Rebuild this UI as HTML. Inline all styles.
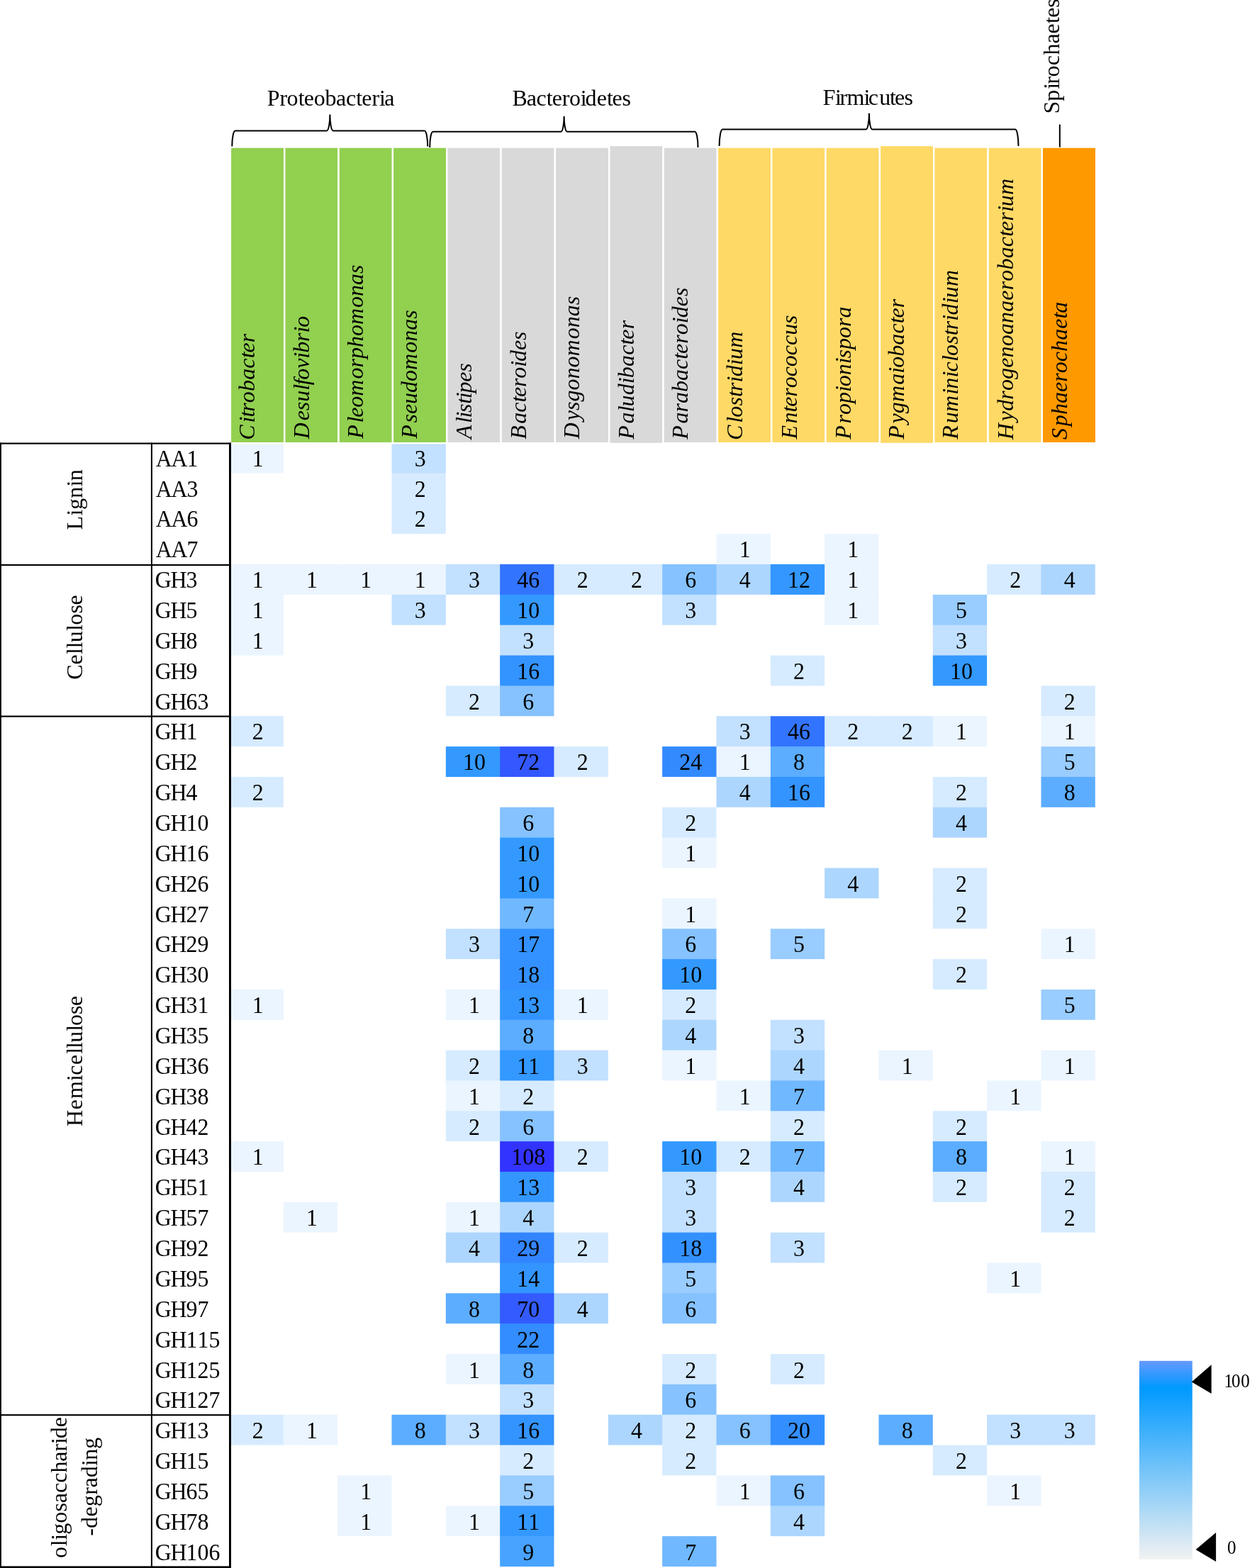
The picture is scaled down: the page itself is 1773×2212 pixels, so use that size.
<!DOCTYPE html>
<html lang="en"><head><meta charset="utf-8"><title>CAZyme family distribution heatmap</title>
<style>html,body{margin:0;padding:0;background:#fff}body{width:1773px;height:2212px;overflow:hidden}svg{display:block}text{font-family:"Liberation Serif","Times New Roman",Times,serif;font-size:32px;fill:#000;font-kerning:none}.i{font-style:italic}.n{text-anchor:middle;font-size:33.6px}.r{font-size:33.6px}</style></head><body>
<svg width="1773" height="2212" viewBox="0 0 1773 2212">
<defs><linearGradient id="lg" x1="0" y1="0" x2="0" y2="1"><stop offset="0" stop-color="#6699ff"/><stop offset="0.135" stop-color="#0099ff"/><stop offset="1" stop-color="#f2f2f2"/></linearGradient></defs>
<rect width="1773" height="2212" fill="#fff"/>
<g id="cells">
<rect x="323.5" y="624.66" width="76.33" height="42.85" fill="#ebf5ff"/>
<rect x="552.49" y="624.66" width="76.33" height="43.55" fill="#c2e0ff"/>
<rect x="552.49" y="667.51" width="76.33" height="43.55" fill="#d6ebff"/>
<rect x="552.49" y="710.35" width="76.33" height="42.85" fill="#d6ebff"/>
<rect x="1010.47" y="753.2" width="76.33" height="43.55" fill="#ebf5ff"/>
<rect x="1163.13" y="753.2" width="76.33" height="43.55" fill="#ebf5ff"/>
<rect x="323.5" y="796.04" width="77.03" height="43.55" fill="#ebf5ff"/>
<rect x="399.83" y="796.04" width="77.03" height="42.85" fill="#ebf5ff"/>
<rect x="476.16" y="796.04" width="77.03" height="42.85" fill="#ebf5ff"/>
<rect x="552.49" y="796.04" width="77.03" height="43.55" fill="#ebf5ff"/>
<rect x="628.82" y="796.04" width="77.03" height="42.85" fill="#c2e0ff"/>
<rect x="705.15" y="796.04" width="77.03" height="43.55" fill="#3374ff"/>
<rect x="781.48" y="796.04" width="77.03" height="42.85" fill="#d6ebff"/>
<rect x="857.81" y="796.04" width="77.03" height="42.85" fill="#d6ebff"/>
<rect x="934.14" y="796.04" width="77.03" height="43.55" fill="#85c2ff"/>
<rect x="1010.47" y="796.04" width="77.03" height="42.85" fill="#add6ff"/>
<rect x="1086.8" y="796.04" width="77.03" height="42.85" fill="#3397ff"/>
<rect x="1163.13" y="796.04" width="76.33" height="43.55" fill="#ebf5ff"/>
<rect x="1392.12" y="796.04" width="77.03" height="42.85" fill="#d6ebff"/>
<rect x="1468.45" y="796.04" width="76.33" height="42.85" fill="#add6ff"/>
<rect x="323.5" y="838.89" width="76.33" height="43.55" fill="#ebf5ff"/>
<rect x="552.49" y="838.89" width="76.33" height="42.85" fill="#c2e0ff"/>
<rect x="705.15" y="838.89" width="76.33" height="43.55" fill="#3399ff"/>
<rect x="934.14" y="838.89" width="76.33" height="42.85" fill="#c2e0ff"/>
<rect x="1163.13" y="838.89" width="76.33" height="42.85" fill="#ebf5ff"/>
<rect x="1315.79" y="838.89" width="76.33" height="43.55" fill="#99ccff"/>
<rect x="323.5" y="881.74" width="76.33" height="42.85" fill="#ebf5ff"/>
<rect x="705.15" y="881.74" width="76.33" height="43.55" fill="#c2e0ff"/>
<rect x="1315.79" y="881.74" width="76.33" height="43.55" fill="#c2e0ff"/>
<rect x="705.15" y="924.58" width="76.33" height="43.55" fill="#3393ff"/>
<rect x="1086.8" y="924.58" width="76.33" height="42.85" fill="#d6ebff"/>
<rect x="1315.79" y="924.58" width="76.33" height="42.85" fill="#3399ff"/>
<rect x="628.82" y="967.43" width="77.03" height="42.85" fill="#d6ebff"/>
<rect x="705.15" y="967.43" width="76.33" height="42.85" fill="#85c2ff"/>
<rect x="1468.45" y="967.43" width="76.33" height="43.55" fill="#d6ebff"/>
<rect x="323.5" y="1010.27" width="76.33" height="42.85" fill="#d6ebff"/>
<rect x="1010.47" y="1010.27" width="77.03" height="43.55" fill="#c2e0ff"/>
<rect x="1086.8" y="1010.27" width="77.03" height="43.55" fill="#3374ff"/>
<rect x="1163.13" y="1010.27" width="77.03" height="42.85" fill="#d6ebff"/>
<rect x="1239.46" y="1010.27" width="77.03" height="42.85" fill="#d6ebff"/>
<rect x="1315.79" y="1010.27" width="76.33" height="42.85" fill="#ebf5ff"/>
<rect x="1468.45" y="1010.27" width="76.33" height="43.55" fill="#ebf5ff"/>
<rect x="628.82" y="1053.12" width="77.03" height="42.85" fill="#3399ff"/>
<rect x="705.15" y="1053.12" width="77.03" height="42.85" fill="#3358ff"/>
<rect x="781.48" y="1053.12" width="76.33" height="42.85" fill="#d6ebff"/>
<rect x="934.14" y="1053.12" width="77.03" height="42.85" fill="#338aff"/>
<rect x="1010.47" y="1053.12" width="77.03" height="43.55" fill="#ebf5ff"/>
<rect x="1086.8" y="1053.12" width="76.33" height="43.55" fill="#5cadff"/>
<rect x="1468.45" y="1053.12" width="76.33" height="43.55" fill="#99ccff"/>
<rect x="323.5" y="1095.97" width="76.33" height="42.85" fill="#d6ebff"/>
<rect x="1010.47" y="1095.97" width="77.03" height="42.85" fill="#add6ff"/>
<rect x="1086.8" y="1095.97" width="76.33" height="42.85" fill="#3393ff"/>
<rect x="1315.79" y="1095.97" width="76.33" height="43.55" fill="#d6ebff"/>
<rect x="1468.45" y="1095.97" width="76.33" height="42.85" fill="#5cadff"/>
<rect x="705.15" y="1138.81" width="76.33" height="43.55" fill="#85c2ff"/>
<rect x="934.14" y="1138.81" width="76.33" height="43.55" fill="#d6ebff"/>
<rect x="1315.79" y="1138.81" width="76.33" height="42.85" fill="#add6ff"/>
<rect x="705.15" y="1181.66" width="76.33" height="43.55" fill="#3399ff"/>
<rect x="934.14" y="1181.66" width="76.33" height="42.85" fill="#ebf5ff"/>
<rect x="705.15" y="1224.5" width="76.33" height="43.55" fill="#3399ff"/>
<rect x="1163.13" y="1224.5" width="76.33" height="42.85" fill="#add6ff"/>
<rect x="1315.79" y="1224.5" width="76.33" height="43.55" fill="#d6ebff"/>
<rect x="705.15" y="1267.35" width="76.33" height="43.55" fill="#70b8ff"/>
<rect x="934.14" y="1267.35" width="76.33" height="43.55" fill="#ebf5ff"/>
<rect x="1315.79" y="1267.35" width="76.33" height="42.85" fill="#d6ebff"/>
<rect x="628.82" y="1310.2" width="77.03" height="42.85" fill="#c2e0ff"/>
<rect x="705.15" y="1310.2" width="76.33" height="43.55" fill="#3392ff"/>
<rect x="934.14" y="1310.2" width="76.33" height="43.55" fill="#85c2ff"/>
<rect x="1086.8" y="1310.2" width="76.33" height="42.85" fill="#99ccff"/>
<rect x="1468.45" y="1310.2" width="76.33" height="42.85" fill="#ebf5ff"/>
<rect x="705.15" y="1353.04" width="76.33" height="43.55" fill="#3391ff"/>
<rect x="934.14" y="1353.04" width="76.33" height="43.55" fill="#3399ff"/>
<rect x="1315.79" y="1353.04" width="76.33" height="42.85" fill="#d6ebff"/>
<rect x="323.5" y="1395.89" width="76.33" height="42.85" fill="#ebf5ff"/>
<rect x="628.82" y="1395.89" width="77.03" height="42.85" fill="#ebf5ff"/>
<rect x="705.15" y="1395.89" width="77.03" height="43.55" fill="#3396ff"/>
<rect x="781.48" y="1395.89" width="76.33" height="42.85" fill="#ebf5ff"/>
<rect x="934.14" y="1395.89" width="76.33" height="43.55" fill="#d6ebff"/>
<rect x="1468.45" y="1395.89" width="76.33" height="42.85" fill="#99ccff"/>
<rect x="705.15" y="1438.73" width="76.33" height="43.55" fill="#5cadff"/>
<rect x="934.14" y="1438.73" width="76.33" height="43.55" fill="#add6ff"/>
<rect x="1086.8" y="1438.73" width="76.33" height="43.55" fill="#c2e0ff"/>
<rect x="628.82" y="1481.58" width="77.03" height="43.55" fill="#d6ebff"/>
<rect x="705.15" y="1481.58" width="77.03" height="43.55" fill="#3398ff"/>
<rect x="781.48" y="1481.58" width="76.33" height="42.85" fill="#c2e0ff"/>
<rect x="934.14" y="1481.58" width="76.33" height="42.85" fill="#ebf5ff"/>
<rect x="1086.8" y="1481.58" width="76.33" height="43.55" fill="#add6ff"/>
<rect x="1239.46" y="1481.58" width="76.33" height="42.85" fill="#ebf5ff"/>
<rect x="1468.45" y="1481.58" width="76.33" height="42.85" fill="#ebf5ff"/>
<rect x="628.82" y="1524.43" width="77.03" height="43.55" fill="#ebf5ff"/>
<rect x="705.15" y="1524.43" width="76.33" height="43.55" fill="#d6ebff"/>
<rect x="1010.47" y="1524.43" width="77.03" height="42.85" fill="#ebf5ff"/>
<rect x="1086.8" y="1524.43" width="76.33" height="43.55" fill="#70b8ff"/>
<rect x="1392.12" y="1524.43" width="76.33" height="42.85" fill="#ebf5ff"/>
<rect x="628.82" y="1567.27" width="77.03" height="42.85" fill="#d6ebff"/>
<rect x="705.15" y="1567.27" width="76.33" height="43.55" fill="#85c2ff"/>
<rect x="1086.8" y="1567.27" width="76.33" height="43.55" fill="#d6ebff"/>
<rect x="1315.79" y="1567.27" width="76.33" height="43.55" fill="#d6ebff"/>
<rect x="323.5" y="1610.12" width="76.33" height="42.85" fill="#ebf5ff"/>
<rect x="705.15" y="1610.12" width="77.03" height="43.55" fill="#3333ff"/>
<rect x="781.48" y="1610.12" width="76.33" height="42.85" fill="#d6ebff"/>
<rect x="934.14" y="1610.12" width="77.03" height="43.55" fill="#3399ff"/>
<rect x="1010.47" y="1610.12" width="77.03" height="42.85" fill="#d6ebff"/>
<rect x="1086.8" y="1610.12" width="76.33" height="43.55" fill="#70b8ff"/>
<rect x="1315.79" y="1610.12" width="76.33" height="43.55" fill="#5cadff"/>
<rect x="1468.45" y="1610.12" width="76.33" height="43.55" fill="#ebf5ff"/>
<rect x="705.15" y="1652.96" width="76.33" height="43.55" fill="#3396ff"/>
<rect x="934.14" y="1652.96" width="76.33" height="43.55" fill="#c2e0ff"/>
<rect x="1086.8" y="1652.96" width="76.33" height="42.85" fill="#add6ff"/>
<rect x="1315.79" y="1652.96" width="76.33" height="42.85" fill="#d6ebff"/>
<rect x="1468.45" y="1652.96" width="76.33" height="43.55" fill="#d6ebff"/>
<rect x="399.83" y="1695.81" width="76.33" height="42.85" fill="#ebf5ff"/>
<rect x="628.82" y="1695.81" width="77.03" height="43.55" fill="#ebf5ff"/>
<rect x="705.15" y="1695.81" width="76.33" height="43.55" fill="#add6ff"/>
<rect x="934.14" y="1695.81" width="76.33" height="43.55" fill="#c2e0ff"/>
<rect x="1468.45" y="1695.81" width="76.33" height="42.85" fill="#d6ebff"/>
<rect x="628.82" y="1738.66" width="77.03" height="42.85" fill="#add6ff"/>
<rect x="705.15" y="1738.66" width="77.03" height="43.55" fill="#3385ff"/>
<rect x="781.48" y="1738.66" width="76.33" height="42.85" fill="#d6ebff"/>
<rect x="934.14" y="1738.66" width="76.33" height="43.55" fill="#3391ff"/>
<rect x="1086.8" y="1738.66" width="76.33" height="42.85" fill="#c2e0ff"/>
<rect x="705.15" y="1781.5" width="76.33" height="43.55" fill="#3395ff"/>
<rect x="934.14" y="1781.5" width="76.33" height="43.55" fill="#99ccff"/>
<rect x="1392.12" y="1781.5" width="76.33" height="42.85" fill="#ebf5ff"/>
<rect x="628.82" y="1824.35" width="77.03" height="42.85" fill="#5cadff"/>
<rect x="705.15" y="1824.35" width="77.03" height="43.55" fill="#335bff"/>
<rect x="781.48" y="1824.35" width="76.33" height="42.85" fill="#add6ff"/>
<rect x="934.14" y="1824.35" width="76.33" height="42.85" fill="#85c2ff"/>
<rect x="705.15" y="1867.19" width="76.33" height="43.55" fill="#338dff"/>
<rect x="628.82" y="1910.04" width="77.03" height="42.85" fill="#ebf5ff"/>
<rect x="705.15" y="1910.04" width="76.33" height="43.55" fill="#5cadff"/>
<rect x="934.14" y="1910.04" width="76.33" height="43.55" fill="#d6ebff"/>
<rect x="1086.8" y="1910.04" width="76.33" height="42.85" fill="#d6ebff"/>
<rect x="705.15" y="1952.89" width="76.33" height="43.55" fill="#c2e0ff"/>
<rect x="934.14" y="1952.89" width="76.33" height="43.55" fill="#85c2ff"/>
<rect x="323.5" y="1995.73" width="77.03" height="42.85" fill="#d6ebff"/>
<rect x="399.83" y="1995.73" width="76.33" height="42.85" fill="#ebf5ff"/>
<rect x="552.49" y="1995.73" width="77.03" height="42.85" fill="#5cadff"/>
<rect x="628.82" y="1995.73" width="77.03" height="42.85" fill="#c2e0ff"/>
<rect x="705.15" y="1995.73" width="76.33" height="43.55" fill="#3393ff"/>
<rect x="857.81" y="1995.73" width="77.03" height="42.85" fill="#add6ff"/>
<rect x="934.14" y="1995.73" width="77.03" height="43.55" fill="#d6ebff"/>
<rect x="1010.47" y="1995.73" width="77.03" height="42.85" fill="#85c2ff"/>
<rect x="1086.8" y="1995.73" width="76.33" height="42.85" fill="#338fff"/>
<rect x="1239.46" y="1995.73" width="76.33" height="42.85" fill="#5cadff"/>
<rect x="1392.12" y="1995.73" width="77.03" height="42.85" fill="#c2e0ff"/>
<rect x="1468.45" y="1995.73" width="76.33" height="42.85" fill="#c2e0ff"/>
<rect x="705.15" y="2038.58" width="76.33" height="43.55" fill="#d6ebff"/>
<rect x="934.14" y="2038.58" width="76.33" height="42.85" fill="#d6ebff"/>
<rect x="1315.79" y="2038.58" width="76.33" height="42.85" fill="#d6ebff"/>
<rect x="476.16" y="2081.42" width="76.33" height="43.55" fill="#ebf5ff"/>
<rect x="705.15" y="2081.42" width="76.33" height="43.55" fill="#99ccff"/>
<rect x="1010.47" y="2081.42" width="77.03" height="42.85" fill="#ebf5ff"/>
<rect x="1086.8" y="2081.42" width="76.33" height="43.55" fill="#85c2ff"/>
<rect x="1392.12" y="2081.42" width="76.33" height="42.85" fill="#ebf5ff"/>
<rect x="476.16" y="2124.27" width="76.33" height="42.85" fill="#ebf5ff"/>
<rect x="628.82" y="2124.27" width="77.03" height="42.85" fill="#ebf5ff"/>
<rect x="705.15" y="2124.27" width="76.33" height="43.55" fill="#3398ff"/>
<rect x="1086.8" y="2124.27" width="76.33" height="42.85" fill="#add6ff"/>
<rect x="705.15" y="2167.12" width="76.33" height="42.85" fill="#47a3ff"/>
<rect x="934.14" y="2167.12" width="76.33" height="42.85" fill="#70b8ff"/>
</g>
<g id="bars" stroke="#fff" stroke-width="2.4">
<rect x="324.9" y="207.5" width="76.33" height="417.7" fill="#92d050"/>
<rect x="401.23" y="207.5" width="76.33" height="417.7" fill="#92d050"/>
<rect x="477.56" y="207.5" width="76.33" height="417.7" fill="#92d050"/>
<rect x="553.89" y="207.5" width="76.33" height="417.7" fill="#92d050"/>
<rect x="630.22" y="207.5" width="76.33" height="417.7" fill="#d9d9d9"/>
<rect x="706.55" y="207.5" width="76.33" height="417.7" fill="#d9d9d9"/>
<rect x="782.88" y="207.5" width="76.33" height="417.7" fill="#d9d9d9"/>
<rect x="859.21" y="205" width="76.33" height="421" fill="#d9d9d9"/>
<rect x="935.54" y="207.5" width="76.33" height="417.7" fill="#d9d9d9"/>
<rect x="1011.87" y="207.5" width="76.33" height="417.7" fill="#ffd966"/>
<rect x="1088.2" y="207.5" width="76.33" height="417.7" fill="#ffd966"/>
<rect x="1164.53" y="207.5" width="76.33" height="417.7" fill="#ffd966"/>
<rect x="1240.86" y="205" width="76.33" height="421" fill="#ffd966"/>
<rect x="1317.19" y="207.5" width="76.33" height="417.7" fill="#ffd966"/>
<rect x="1393.52" y="207.5" width="76.33" height="417.7" fill="#ffd966"/>
<rect x="1469.85" y="207.5" width="76.33" height="417.7" fill="#ff9900"/>
</g>
<g id="genera" class="i">
<text transform="translate(359.4 620.68) rotate(-90)" x="0 24.22 32.18 39.95 52.54 68.69 84.83 100.98 115.32 123.09 137.43">Citrobacter</text>
<text transform="translate(435.7 619.14) rotate(-90)" x="0 25.79 39.94 52.34 68.28 75.85 83.42 99.36 113.51 121.28 137.23 149.63 157.39">Desulfovibrio</text>
<text transform="translate(512.3 618.73) rotate(-90)" x="0 22.28 29.9 44.1 60.1 84.24 100.24 112.7 128.7 144.7 160.7 184.84 200.84 216.84 232.84">Pleomorphomonas</text>
<text transform="translate(588.1 618.83) rotate(-90)" x="0 22.27 34.72 48.92 64.92 80.92 96.92 121.05 137.05 153.05 169.04">Pseudomonas</text>
<text transform="translate(665.2 619.15) rotate(-90)" x="0 22.11 29.56 37.21 49.5 56.95 64.6 80.43 94.47">Alistipes</text>
<text transform="translate(741.9 619.8) rotate(-90)" x="0 22.18 38.08 52.19 59.71 73.82 86.18 102.08 109.8 125.71 139.81">Bacteroides</text>
<text transform="translate(817.3 619.14) rotate(-90)" x="0 25.86 40.08 52.56 68.58 84.6 100.62 116.64 140.8 156.82 172.84 188.86">Dysgonomonas</text>
<text transform="translate(893.6 619.83) rotate(-90)" x="0 22.43 38.59 46.37 62.53 78.69 86.67 102.82 118.98 133.34 141.12 155.48">Paludibacter</text>
<text transform="translate(970.3 619.83) rotate(-90)" x="0 22.31 38.35 50.84 66.88 82.91 98.95 113.19 120.85 135.08 147.57 163.61 171.47 187.5 201.74">Parabacteroides</text>
<text transform="translate(1046.7 620.98) rotate(-90)" x="0 24.3 32.15 48.37 61.05 68.89 81.57 89.62 105.84 113.89 130.12">Clostridium</text>
<text transform="translate(1123.5 619.62) rotate(-90)" x="0 22.24 38.2 45.78 59.95 72.36 88.32 102.49 118.45 132.61 146.78 162.74">Enterococcus</text>
<text transform="translate(1199.5 619.83) rotate(-90)" x="0 22.28 34.74 50.74 66.75 74.57 90.58 106.58 114.41 126.86 142.87 158.87 171.33">Propionispora</text>
<text transform="translate(1274.7 619.83) rotate(-90)" x="0 22.37 36.67 52.76 76.99 93.08 101 117.09 133.18 149.28 163.57 171.29 185.58">Pygmaiobacter</text>
<text transform="translate(1351.4 619.83) rotate(-90)" x="0 22.51 38.74 63.11 71.17 87.4 95.45 109.89 117.74 133.97 146.66 154.51 167.19 175.25 191.48 199.53 215.76">Ruminiclostridium</text>
<text transform="translate(1428.6 620.16) rotate(-90)" x="0 25.99 40.35 56.5 69.11 85.26 101.42 115.77 131.93 148.08 164.24 180.39 196.54 210.9 223.51 239.66 255.81 271.97 286.32 294.1 308.46 321.06 329.04 345.19">Hydrogenoanaerobacterium</text>
<text transform="translate(1505.2 619.98) rotate(-90)" x="0 18.79 34.86 50.92 66.98 81.25 93.77 109.83 124.1 140.16 156.23 170.49 178.18">Sphaerochaeta</text>
</g>
<g id="values">
<text class="n" transform="translate(363.67 657.7) scale(0.95 1)">1</text>
<text class="n" transform="translate(592.65 657.7) scale(0.95 1)">3</text>
<text class="n" transform="translate(592.65 700.56) scale(0.95 1)">2</text>
<text class="n" transform="translate(592.65 743.42) scale(0.95 1)">2</text>
<text class="n" transform="translate(1050.63 786.28) scale(0.95 1)">1</text>
<text class="n" transform="translate(1203.3 786.28) scale(0.95 1)">1</text>
<text class="n" transform="translate(363.67 829.14) scale(0.95 1)">1</text>
<text class="n" transform="translate(440 829.14) scale(0.95 1)">1</text>
<text class="n" transform="translate(516.32 829.14) scale(0.95 1)">1</text>
<text class="n" transform="translate(592.65 829.14) scale(0.95 1)">1</text>
<text class="n" transform="translate(668.98 829.14) scale(0.95 1)">3</text>
<text class="n" transform="translate(745.31 829.14) scale(0.95 1)">46</text>
<text class="n" transform="translate(821.64 829.14) scale(0.95 1)">2</text>
<text class="n" transform="translate(897.97 829.14) scale(0.95 1)">2</text>
<text class="n" transform="translate(974.3 829.14) scale(0.95 1)">6</text>
<text class="n" transform="translate(1050.63 829.14) scale(0.95 1)">4</text>
<text class="n" transform="translate(1126.96 829.14) scale(0.95 1)">12</text>
<text class="n" transform="translate(1203.3 829.14) scale(0.95 1)">1</text>
<text class="n" transform="translate(1432.28 829.14) scale(0.95 1)">2</text>
<text class="n" transform="translate(1508.62 829.14) scale(0.95 1)">4</text>
<text class="n" transform="translate(363.67 872) scale(0.95 1)">1</text>
<text class="n" transform="translate(592.65 872) scale(0.95 1)">3</text>
<text class="n" transform="translate(745.31 872) scale(0.95 1)">10</text>
<text class="n" transform="translate(974.3 872) scale(0.95 1)">3</text>
<text class="n" transform="translate(1203.3 872) scale(0.95 1)">1</text>
<text class="n" transform="translate(1355.95 872) scale(0.95 1)">5</text>
<text class="n" transform="translate(363.67 914.86) scale(0.95 1)">1</text>
<text class="n" transform="translate(745.31 914.86) scale(0.95 1)">3</text>
<text class="n" transform="translate(1355.95 914.86) scale(0.95 1)">3</text>
<text class="n" transform="translate(745.31 957.72) scale(0.95 1)">16</text>
<text class="n" transform="translate(1126.96 957.72) scale(0.95 1)">2</text>
<text class="n" transform="translate(1355.95 957.72) scale(0.95 1)">10</text>
<text class="n" transform="translate(668.98 1000.58) scale(0.95 1)">2</text>
<text class="n" transform="translate(745.31 1000.58) scale(0.95 1)">6</text>
<text class="n" transform="translate(1508.62 1000.58) scale(0.95 1)">2</text>
<text class="n" transform="translate(363.67 1043.44) scale(0.95 1)">2</text>
<text class="n" transform="translate(1050.63 1043.44) scale(0.95 1)">3</text>
<text class="n" transform="translate(1126.96 1043.44) scale(0.95 1)">46</text>
<text class="n" transform="translate(1203.3 1043.44) scale(0.95 1)">2</text>
<text class="n" transform="translate(1279.62 1043.44) scale(0.95 1)">2</text>
<text class="n" transform="translate(1355.95 1043.44) scale(0.95 1)">1</text>
<text class="n" transform="translate(1508.62 1043.44) scale(0.95 1)">1</text>
<text class="n" transform="translate(668.98 1086.3) scale(0.95 1)">10</text>
<text class="n" transform="translate(745.31 1086.3) scale(0.95 1)">72</text>
<text class="n" transform="translate(821.64 1086.3) scale(0.95 1)">2</text>
<text class="n" transform="translate(974.3 1086.3) scale(0.95 1)">24</text>
<text class="n" transform="translate(1050.63 1086.3) scale(0.95 1)">1</text>
<text class="n" transform="translate(1126.96 1086.3) scale(0.95 1)">8</text>
<text class="n" transform="translate(1508.62 1086.3) scale(0.95 1)">5</text>
<text class="n" transform="translate(363.67 1129.16) scale(0.95 1)">2</text>
<text class="n" transform="translate(1050.63 1129.16) scale(0.95 1)">4</text>
<text class="n" transform="translate(1126.96 1129.16) scale(0.95 1)">16</text>
<text class="n" transform="translate(1355.95 1129.16) scale(0.95 1)">2</text>
<text class="n" transform="translate(1508.62 1129.16) scale(0.95 1)">8</text>
<text class="n" transform="translate(745.31 1172.02) scale(0.95 1)">6</text>
<text class="n" transform="translate(974.3 1172.02) scale(0.95 1)">2</text>
<text class="n" transform="translate(1355.95 1172.02) scale(0.95 1)">4</text>
<text class="n" transform="translate(745.31 1214.88) scale(0.95 1)">10</text>
<text class="n" transform="translate(974.3 1214.88) scale(0.95 1)">1</text>
<text class="n" transform="translate(745.31 1257.74) scale(0.95 1)">10</text>
<text class="n" transform="translate(1203.3 1257.74) scale(0.95 1)">4</text>
<text class="n" transform="translate(1355.95 1257.74) scale(0.95 1)">2</text>
<text class="n" transform="translate(745.31 1300.6) scale(0.95 1)">7</text>
<text class="n" transform="translate(974.3 1300.6) scale(0.95 1)">1</text>
<text class="n" transform="translate(1355.95 1300.6) scale(0.95 1)">2</text>
<text class="n" transform="translate(668.98 1343.46) scale(0.95 1)">3</text>
<text class="n" transform="translate(745.31 1343.46) scale(0.95 1)">17</text>
<text class="n" transform="translate(974.3 1343.46) scale(0.95 1)">6</text>
<text class="n" transform="translate(1126.96 1343.46) scale(0.95 1)">5</text>
<text class="n" transform="translate(1508.62 1343.46) scale(0.95 1)">1</text>
<text class="n" transform="translate(745.31 1386.32) scale(0.95 1)">18</text>
<text class="n" transform="translate(974.3 1386.32) scale(0.95 1)">10</text>
<text class="n" transform="translate(1355.95 1386.32) scale(0.95 1)">2</text>
<text class="n" transform="translate(363.67 1429.18) scale(0.95 1)">1</text>
<text class="n" transform="translate(668.98 1429.18) scale(0.95 1)">1</text>
<text class="n" transform="translate(745.31 1429.18) scale(0.95 1)">13</text>
<text class="n" transform="translate(821.64 1429.18) scale(0.95 1)">1</text>
<text class="n" transform="translate(974.3 1429.18) scale(0.95 1)">2</text>
<text class="n" transform="translate(1508.62 1429.18) scale(0.95 1)">5</text>
<text class="n" transform="translate(745.31 1472.04) scale(0.95 1)">8</text>
<text class="n" transform="translate(974.3 1472.04) scale(0.95 1)">4</text>
<text class="n" transform="translate(1126.96 1472.04) scale(0.95 1)">3</text>
<text class="n" transform="translate(668.98 1514.9) scale(0.95 1)">2</text>
<text class="n" transform="translate(745.31 1514.9) scale(0.95 1)">11</text>
<text class="n" transform="translate(821.64 1514.9) scale(0.95 1)">3</text>
<text class="n" transform="translate(974.3 1514.9) scale(0.95 1)">1</text>
<text class="n" transform="translate(1126.96 1514.9) scale(0.95 1)">4</text>
<text class="n" transform="translate(1279.62 1514.9) scale(0.95 1)">1</text>
<text class="n" transform="translate(1508.62 1514.9) scale(0.95 1)">1</text>
<text class="n" transform="translate(668.98 1557.76) scale(0.95 1)">1</text>
<text class="n" transform="translate(745.31 1557.76) scale(0.95 1)">2</text>
<text class="n" transform="translate(1050.63 1557.76) scale(0.95 1)">1</text>
<text class="n" transform="translate(1126.96 1557.76) scale(0.95 1)">7</text>
<text class="n" transform="translate(1432.28 1557.76) scale(0.95 1)">1</text>
<text class="n" transform="translate(668.98 1600.62) scale(0.95 1)">2</text>
<text class="n" transform="translate(745.31 1600.62) scale(0.95 1)">6</text>
<text class="n" transform="translate(1126.96 1600.62) scale(0.95 1)">2</text>
<text class="n" transform="translate(1355.95 1600.62) scale(0.95 1)">2</text>
<text class="n" transform="translate(363.67 1643.48) scale(0.95 1)">1</text>
<text class="n" transform="translate(745.31 1643.48) scale(0.95 1)">108</text>
<text class="n" transform="translate(821.64 1643.48) scale(0.95 1)">2</text>
<text class="n" transform="translate(974.3 1643.48) scale(0.95 1)">10</text>
<text class="n" transform="translate(1050.63 1643.48) scale(0.95 1)">2</text>
<text class="n" transform="translate(1126.96 1643.48) scale(0.95 1)">7</text>
<text class="n" transform="translate(1355.95 1643.48) scale(0.95 1)">8</text>
<text class="n" transform="translate(1508.62 1643.48) scale(0.95 1)">1</text>
<text class="n" transform="translate(745.31 1686.34) scale(0.95 1)">13</text>
<text class="n" transform="translate(974.3 1686.34) scale(0.95 1)">3</text>
<text class="n" transform="translate(1126.96 1686.34) scale(0.95 1)">4</text>
<text class="n" transform="translate(1355.95 1686.34) scale(0.95 1)">2</text>
<text class="n" transform="translate(1508.62 1686.34) scale(0.95 1)">2</text>
<text class="n" transform="translate(440 1729.2) scale(0.95 1)">1</text>
<text class="n" transform="translate(668.98 1729.2) scale(0.95 1)">1</text>
<text class="n" transform="translate(745.31 1729.2) scale(0.95 1)">4</text>
<text class="n" transform="translate(974.3 1729.2) scale(0.95 1)">3</text>
<text class="n" transform="translate(1508.62 1729.2) scale(0.95 1)">2</text>
<text class="n" transform="translate(668.98 1772.06) scale(0.95 1)">4</text>
<text class="n" transform="translate(745.31 1772.06) scale(0.95 1)">29</text>
<text class="n" transform="translate(821.64 1772.06) scale(0.95 1)">2</text>
<text class="n" transform="translate(974.3 1772.06) scale(0.95 1)">18</text>
<text class="n" transform="translate(1126.96 1772.06) scale(0.95 1)">3</text>
<text class="n" transform="translate(745.31 1814.92) scale(0.95 1)">14</text>
<text class="n" transform="translate(974.3 1814.92) scale(0.95 1)">5</text>
<text class="n" transform="translate(1432.28 1814.92) scale(0.95 1)">1</text>
<text class="n" transform="translate(668.98 1857.78) scale(0.95 1)">8</text>
<text class="n" transform="translate(745.31 1857.78) scale(0.95 1)">70</text>
<text class="n" transform="translate(821.64 1857.78) scale(0.95 1)">4</text>
<text class="n" transform="translate(974.3 1857.78) scale(0.95 1)">6</text>
<text class="n" transform="translate(745.31 1900.64) scale(0.95 1)">22</text>
<text class="n" transform="translate(668.98 1943.5) scale(0.95 1)">1</text>
<text class="n" transform="translate(745.31 1943.5) scale(0.95 1)">8</text>
<text class="n" transform="translate(974.3 1943.5) scale(0.95 1)">2</text>
<text class="n" transform="translate(1126.96 1943.5) scale(0.95 1)">2</text>
<text class="n" transform="translate(745.31 1986.36) scale(0.95 1)">3</text>
<text class="n" transform="translate(974.3 1986.36) scale(0.95 1)">6</text>
<text class="n" transform="translate(363.67 2029.22) scale(0.95 1)">2</text>
<text class="n" transform="translate(440 2029.22) scale(0.95 1)">1</text>
<text class="n" transform="translate(592.65 2029.22) scale(0.95 1)">8</text>
<text class="n" transform="translate(668.98 2029.22) scale(0.95 1)">3</text>
<text class="n" transform="translate(745.31 2029.22) scale(0.95 1)">16</text>
<text class="n" transform="translate(897.97 2029.22) scale(0.95 1)">4</text>
<text class="n" transform="translate(974.3 2029.22) scale(0.95 1)">2</text>
<text class="n" transform="translate(1050.63 2029.22) scale(0.95 1)">6</text>
<text class="n" transform="translate(1126.96 2029.22) scale(0.95 1)">20</text>
<text class="n" transform="translate(1279.62 2029.22) scale(0.95 1)">8</text>
<text class="n" transform="translate(1432.28 2029.22) scale(0.95 1)">3</text>
<text class="n" transform="translate(1508.62 2029.22) scale(0.95 1)">3</text>
<text class="n" transform="translate(745.31 2072.08) scale(0.95 1)">2</text>
<text class="n" transform="translate(974.3 2072.08) scale(0.95 1)">2</text>
<text class="n" transform="translate(1355.95 2072.08) scale(0.95 1)">2</text>
<text class="n" transform="translate(516.32 2114.94) scale(0.95 1)">1</text>
<text class="n" transform="translate(745.31 2114.94) scale(0.95 1)">5</text>
<text class="n" transform="translate(1050.63 2114.94) scale(0.95 1)">1</text>
<text class="n" transform="translate(1126.96 2114.94) scale(0.95 1)">6</text>
<text class="n" transform="translate(1432.28 2114.94) scale(0.95 1)">1</text>
<text class="n" transform="translate(516.32 2157.8) scale(0.95 1)">1</text>
<text class="n" transform="translate(668.98 2157.8) scale(0.95 1)">1</text>
<text class="n" transform="translate(745.31 2157.8) scale(0.95 1)">11</text>
<text class="n" transform="translate(1126.96 2157.8) scale(0.95 1)">4</text>
<text class="n" transform="translate(745.31 2200.66) scale(0.95 1)">9</text>
<text class="n" transform="translate(974.3 2200.66) scale(0.95 1)">7</text>
</g>
<g id="table" fill="#000">
<rect x="0" y="624.55" width="1.9" height="1587.45"/>
<rect x="323" y="624.55" width="3" height="1587.45"/>
<rect x="212.9" y="624.55" width="2" height="1587.45"/>
<rect x="0" y="624.52" width="326" height="2.15"/>
<rect x="0" y="796.02" width="326" height="2.15"/>
<rect x="0" y="1009.52" width="326" height="2.15"/>
<rect x="0" y="1995.12" width="326" height="2.15"/>
<rect x="0" y="2209.4" width="326" height="2.6"/>
</g>
<g id="families">
<text class="r" transform="translate(219.69 657.7) scale(0.95 1)" x="0 23.08 46.17">AA1</text>
<text class="r" transform="translate(219.69 700.56) scale(0.95 1)" x="0 23.08 46.17">AA3</text>
<text class="r" transform="translate(219.69 743.42) scale(0.95 1)" x="0 23.08 46.17">AA6</text>
<text class="r" transform="translate(219.69 786.28) scale(0.95 1)" x="0 23.08 46.17">AA7</text>
<text class="r" transform="translate(218.69 829.14) scale(0.95 1)" x="0 23.08 46.17">GH3</text>
<text class="r" transform="translate(218.69 872) scale(0.95 1)" x="0 23.08 46.17">GH5</text>
<text class="r" transform="translate(218.69 914.86) scale(0.95 1)" x="0 23.08 46.17">GH8</text>
<text class="r" transform="translate(218.69 957.72) scale(0.95 1)" x="0 23.08 46.17">GH9</text>
<text class="r" transform="translate(218.69 1000.58) scale(0.95 1)" x="0 23.08 46.17 62.96">GH63</text>
<text class="r" transform="translate(218.69 1043.44) scale(0.95 1)" x="0 23.08 46.17">GH1</text>
<text class="r" transform="translate(218.69 1086.3) scale(0.95 1)" x="0 23.08 46.17">GH2</text>
<text class="r" transform="translate(218.69 1129.16) scale(0.95 1)" x="0 23.08 46.17">GH4</text>
<text class="r" transform="translate(218.69 1172.02) scale(0.95 1)" x="0 23.08 46.17 62.96">GH10</text>
<text class="r" transform="translate(218.69 1214.88) scale(0.95 1)" x="0 23.08 46.17 62.96">GH16</text>
<text class="r" transform="translate(218.69 1257.74) scale(0.95 1)" x="0 23.08 46.17 62.96">GH26</text>
<text class="r" transform="translate(218.69 1300.6) scale(0.95 1)" x="0 23.08 46.17 62.96">GH27</text>
<text class="r" transform="translate(218.69 1343.46) scale(0.95 1)" x="0 23.08 46.17 62.96">GH29</text>
<text class="r" transform="translate(218.69 1386.32) scale(0.95 1)" x="0 23.08 46.17 62.96">GH30</text>
<text class="r" transform="translate(218.69 1429.18) scale(0.95 1)" x="0 23.08 46.17 62.96">GH31</text>
<text class="r" transform="translate(218.69 1472.04) scale(0.95 1)" x="0 23.08 46.17 62.96">GH35</text>
<text class="r" transform="translate(218.69 1514.9) scale(0.95 1)" x="0 23.08 46.17 62.96">GH36</text>
<text class="r" transform="translate(218.69 1557.76) scale(0.95 1)" x="0 23.08 46.17 62.96">GH38</text>
<text class="r" transform="translate(218.69 1600.62) scale(0.95 1)" x="0 23.08 46.17 62.96">GH42</text>
<text class="r" transform="translate(218.69 1643.48) scale(0.95 1)" x="0 23.08 46.17 62.96">GH43</text>
<text class="r" transform="translate(218.69 1686.34) scale(0.95 1)" x="0 23.08 46.17 62.96">GH51</text>
<text class="r" transform="translate(218.69 1729.2) scale(0.95 1)" x="0 23.08 46.17 62.96">GH57</text>
<text class="r" transform="translate(218.69 1772.06) scale(0.95 1)" x="0 23.08 46.17 62.96">GH92</text>
<text class="r" transform="translate(218.69 1814.92) scale(0.95 1)" x="0 23.08 46.17 62.96">GH95</text>
<text class="r" transform="translate(218.69 1857.78) scale(0.95 1)" x="0 23.08 46.17 62.96">GH97</text>
<text class="r" transform="translate(218.69 1900.64) scale(0.95 1)" x="0 23.08 46.17 62.96 79.75">GH115</text>
<text class="r" transform="translate(218.69 1943.5) scale(0.95 1)" x="0 23.08 46.17 62.96 79.75">GH125</text>
<text class="r" transform="translate(218.69 1986.36) scale(0.95 1)" x="0 23.08 46.17 62.96 79.75">GH127</text>
<text class="r" transform="translate(218.69 2029.22) scale(0.95 1)" x="0 23.08 46.17 62.96">GH13</text>
<text class="r" transform="translate(218.69 2072.08) scale(0.95 1)" x="0 23.08 46.17 62.96">GH15</text>
<text class="r" transform="translate(218.69 2114.94) scale(0.95 1)" x="0 23.08 46.17 62.96">GH65</text>
<text class="r" transform="translate(218.69 2157.8) scale(0.95 1)" x="0 23.08 46.17 62.96">GH78</text>
<text class="r" transform="translate(218.69 2200.66) scale(0.95 1)" x="0 23.08 46.17 62.96 79.75">GH106</text>
</g>
<g id="categories">
<text transform="translate(115.9 747.42) rotate(-90)" x="0 19.96 28.4 44.61 60.98 69.29">Lignin</text>
<text transform="translate(115.9 958.71) rotate(-90)" x="0 21.31 35.61 44.32 52.37 68.77 76.93 93.13 105.26">Cellulose</text>
<text transform="translate(116.2 1588.92) rotate(-90)" x="0 23.76 38.99 63.92 72.19 87.01 102.08 109.96 118.12 134.24 141.91 157.88 169.87">Hemicellulose</text>
<text transform="translate(93.75 2197.92) rotate(-90)" x="0 16.56 25.11 33.07 49.2 65.42 77.62 91.94 106.15 120.47 136.24 150.41 160.84 168.7 184.57">oligosaccharide</text>
<text transform="translate(136.5 2166.69) rotate(-90)" x="0 10.73 27.24 41.48 57.93 68.31 82.41 98.73 106.85 122.81">-degrading</text>
</g>
<g id="phyla">
<text x="376.68 394.46 404.43 420.63 428.77 442.69 458.55 474.11 487.88 502.36 510.28 524.51 534.88 542.17" y="149">Proteobacteria</text>
<text x="722.43 742.77 756.49 770.75 778.75 792.7 802.92 818.68 825.61 841.81 856.05 863.6 877.49" y="148.6">Bacteroidetes</text>
<text x="1160.38 1178.01 1184.61 1194.52 1218.39 1224.8 1240.29 1255.03 1261.96 1275.39" y="147.9">Firmicutes</text>
<text transform="translate(1494.4 159) rotate(-90)" x="-1.44 16.29 33.15 40.42 50.46 66.79 81.55 97.55 111.51 125.93 134.21 148.19">Spirochaetes</text>
</g>
<g id="braces" fill="none" stroke="#000" stroke-width="2">
<path d="M327.3 206.5 A4.5 22.1 0 0 1 331.8 184.4 L460.9 184.4 A4.5 23 0 0 0 465.4 161.4 A4.5 23 0 0 0 469.9 184.4 L598.7 184.4 A4.5 22.1 0 0 1 603.2 206.5"/>
<path d="M606.2 208 A4.5 22.2 0 0 1 610.7 185.8 L791.1 185.8 A4.5 21.9 0 0 0 795.6 163.9 A4.5 21.9 0 0 0 800.1 185.8 L980 185.8 A4.5 22.2 0 0 1 984.5 208"/>
<path d="M1014.6 206 A4.5 23.4 0 0 1 1019.1 182.6 L1221.4 182.6 A4.5 22.9 0 0 0 1225.9 159.7 A4.5 22.9 0 0 0 1230.4 182.6 L1432 182.6 A4.5 23.4 0 0 1 1436.5 206"/>
<line x1="1494.8" y1="175.6" x2="1494.8" y2="207.6"/>
</g>
<g id="legend">
<rect x="1607" y="1919.8" width="74.8" height="280.1" fill="url(#lg)"/>
<polygon points="1680.8,1949.5 1708.7,1925.3 1708.7,1966.1"/>
<polygon points="1686.6,2186.1 1715.1,2161.9 1715.1,2202.9"/>
<text transform="translate(1726.4 1957.2) scale(0.93 1)" x="0 11.4 25.7" style="font-size:27px">100</text>
<text transform="translate(1730.9 2191.6) scale(0.93 1)" style="font-size:27px">0</text>
</g>
</svg></body></html>
